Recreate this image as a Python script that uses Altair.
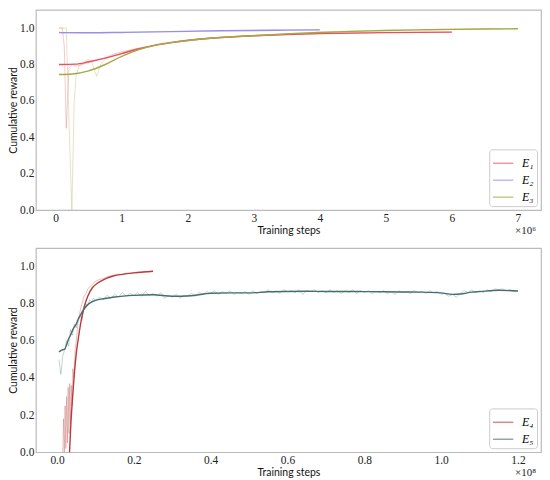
import altair as alt
import pandas as pd

# ---------------- top panel (x in units of 1e6 steps) ----------------
e1_x = [0.05, 0.3, 0.5, 0.75, 1.0, 1.25, 1.5, 1.75, 2.0, 2.5, 3.0, 3.5, 4.0, 5.0, 6.0]
e1_y = [0.80, 0.802, 0.815, 0.835, 0.86, 0.885, 0.905, 0.92, 0.932, 0.948, 0.958, 0.965, 0.97, 0.975, 0.978]
e1_raw_x = [0.05, 0.10, 0.13, 0.16, 0.2, 0.25, 0.3, 0.4, 0.5, 0.6, 0.7, 0.8, 0.9, 1.0, 1.2, 1.4, 1.6,
            1.8, 2.0, 2.3, 2.6, 3.0, 3.5, 4.0, 4.5, 5.0, 5.5, 6.0]
e1_raw_y = [1.0, 1.0, 0.9, 0.45, 0.78, 0.80, 0.79, 0.80, 0.81, 0.82, 0.83, 0.845, 0.86, 0.87, 0.885, 0.90,
            0.915, 0.925, 0.935, 0.945, 0.95, 0.96, 0.965, 0.97, 0.972, 0.976, 0.977, 0.978]

e2_x = [0.05, 0.5, 1.0, 1.5, 2.0, 2.5, 3.0, 3.5, 4.0]
e2_y = [0.975, 0.974, 0.976, 0.979, 0.982, 0.985, 0.987, 0.989, 0.99]
e2_raw_x = [0.05, 0.1, 0.2, 0.4, 0.7, 1.0, 1.5, 2.0, 2.5, 3.0, 3.5, 4.0]
e2_raw_y = [0.98, 0.972, 0.975, 0.973, 0.976, 0.977, 0.98, 0.983, 0.986, 0.988, 0.99, 0.991]

e3_x = [0.05, 0.25, 0.5, 0.75, 1.0, 1.25, 1.5, 1.75, 2.0, 2.5, 3.0, 3.5, 4.0, 4.5, 5.0, 5.5, 6.0, 6.5, 7.0]
e3_y = [0.745, 0.748, 0.765, 0.80, 0.845, 0.88, 0.905, 0.92, 0.932, 0.948, 0.958, 0.968, 0.976, 0.982,
        0.987, 0.99, 0.993, 0.995, 0.996]
e3_raw_x = [0.05, 0.10, 0.16, 0.2, 0.245, 0.28, 0.31, 0.35, 0.4, 0.45, 0.5, 0.55, 0.62, 0.68, 0.75, 0.85,
            0.95, 1.05, 1.2, 1.4, 1.6, 1.8, 2.0, 2.3, 2.6, 3.0, 3.5, 4.0, 4.5, 5.0, 5.5, 6.0, 6.5, 7.0]
e3_raw_y = [1.0, 1.0, 1.0, 0.5, 0.0, 0.6, 0.74, 0.79, 0.80, 0.82, 0.83, 0.81, 0.735, 0.80, 0.83, 0.845,
            0.86, 0.87, 0.885, 0.90, 0.915, 0.925, 0.935, 0.945, 0.952, 0.96, 0.97, 0.978, 0.984, 0.988,
            0.991, 0.994, 0.996, 0.997]

# ---------------- bottom panel (x in units of 1e8 steps) ----------------
e4_x = [0.028, 0.0325, 0.036, 0.04, 0.045, 0.05, 0.056, 0.063, 0.071, 0.08, 0.092, 0.105, 0.118, 0.13,
        0.144, 0.17, 0.2, 0.225, 0.25]
e4_y = [-0.1, 0.0, 0.15, 0.28, 0.42, 0.53, 0.62, 0.71, 0.785, 0.84, 0.886, 0.91, 0.926, 0.938, 0.948,
        0.958, 0.966, 0.971, 0.975]
e4_raw_x = [0.015, 0.017, 0.019, 0.021, 0.023, 0.025, 0.027, 0.029, 0.031, 0.033, 0.035, 0.037, 0.039,
            0.041, 0.044, 0.047, 0.05, 0.055, 0.06, 0.065, 0.07, 0.075, 0.08, 0.09, 0.1, 0.11, 0.12, 0.13,
            0.14, 0.15, 0.16, 0.17, 0.18, 0.19, 0.2, 0.21, 0.22, 0.23, 0.24, 0.25]
e4_raw_y = [0.0, 0.18, 0.0, 0.25, 0.02, 0.3, 0.05, 0.35, 0.1, 0.37, 0.15, 0.36, 0.25, 0.45, 0.4, 0.55,
            0.6, 0.7, 0.76, 0.8, 0.84, 0.85, 0.88, 0.9, 0.92, 0.93, 0.935, 0.945, 0.95, 0.955, 0.96,
            0.958, 0.965, 0.963, 0.968, 0.97, 0.968, 0.974, 0.972, 0.976]

e5_x = [0.005, 0.012, 0.02, 0.025, 0.03, 0.035, 0.04, 0.045, 0.05, 0.055, 0.06, 0.07, 0.08, 0.09, 0.1,
        0.125, 0.15, 0.2, 0.25, 0.3, 0.35, 0.4, 0.45, 0.5, 0.55, 0.6, 0.65, 0.7, 0.75, 0.8, 0.85, 0.9,
        0.95, 1.0, 1.03, 1.05, 1.08, 1.1, 1.15, 1.2]
e5_y = [0.54, 0.55, 0.555, 0.58, 0.61, 0.63, 0.655, 0.675, 0.69, 0.715, 0.735, 0.77, 0.795, 0.808, 0.818,
        0.828, 0.836, 0.845, 0.848, 0.84, 0.843, 0.856, 0.858, 0.858, 0.864, 0.866, 0.867, 0.866, 0.866,
        0.865, 0.864, 0.863, 0.862, 0.858, 0.85, 0.852, 0.862, 0.865, 0.872, 0.868]
e5_raw_x = [0.005, 0.010, 0.015, 0.020, 0.025, 0.030, 0.035, 0.040, 0.045, 0.050, 0.055, 0.060, 0.065,
            0.070, 0.075, 0.080, 0.085, 0.090, 0.095, 0.100,
            0.11, 0.12, 0.13, 0.14, 0.15, 0.16, 0.17, 0.18, 0.19, 0.20,
            0.21, 0.22, 0.23, 0.24, 0.25, 0.26, 0.27, 0.28, 0.29, 0.30,
            0.31, 0.32, 0.33, 0.34, 0.35, 0.36, 0.37, 0.38, 0.39, 0.40,
            0.41, 0.42, 0.43, 0.44, 0.45, 0.46, 0.47, 0.48, 0.49, 0.50,
            0.51, 0.52, 0.53, 0.54, 0.55, 0.56, 0.57, 0.58, 0.59, 0.60,
            0.61, 0.62, 0.63, 0.64, 0.65, 0.66, 0.67, 0.68, 0.69, 0.70,
            0.71, 0.72, 0.73, 0.74, 0.75, 0.76, 0.77, 0.78, 0.79, 0.80,
            0.81, 0.82, 0.83, 0.84, 0.85, 0.86, 0.87, 0.88, 0.89, 0.90,
            0.91, 0.92, 0.93, 0.94, 0.95, 0.96, 0.97, 0.98, 0.99, 1.00,
            1.01, 1.02, 1.03, 1.04, 1.05, 1.06, 1.07, 1.08, 1.09, 1.10,
            1.11, 1.12, 1.13, 1.14, 1.15, 1.16, 1.17, 1.18, 1.19, 1.20]
e5_raw_y = [0.50, 0.42, 0.52, 0.55, 0.60, 0.57, 0.66, 0.63, 0.69, 0.67, 0.72, 0.74, 0.71, 0.78, 0.80,
            0.79, 0.82, 0.81, 0.83, 0.815,
            0.835, 0.82, 0.845, 0.83, 0.85, 0.835, 0.86, 0.84, 0.855, 0.845,
            0.86, 0.84, 0.865, 0.845, 0.855, 0.84, 0.86, 0.83, 0.845, 0.835,
            0.85, 0.83, 0.845, 0.84, 0.855, 0.84, 0.86, 0.85, 0.865, 0.855,
            0.87, 0.85, 0.865, 0.855, 0.87, 0.85, 0.86, 0.855, 0.865, 0.85,
            0.87, 0.855, 0.865, 0.86, 0.875, 0.86, 0.87, 0.855, 0.875, 0.865,
            0.87, 0.86, 0.875, 0.85, 0.87, 0.865, 0.875, 0.86, 0.87, 0.86,
            0.875, 0.86, 0.87, 0.855, 0.87, 0.86, 0.875, 0.855, 0.87, 0.86,
            0.87, 0.855, 0.865, 0.86, 0.87, 0.855, 0.865, 0.85, 0.87, 0.86,
            0.865, 0.855, 0.87, 0.86, 0.865, 0.855, 0.87, 0.86, 0.865, 0.85,
            0.855, 0.84, 0.85, 0.835, 0.855, 0.87, 0.86, 0.875, 0.86, 0.87,
            0.86, 0.875, 0.865, 0.88, 0.875, 0.88, 0.87, 0.875, 0.865, 0.87]

y_ticks = [0.0, 0.2, 0.4, 0.6, 0.8, 1.0]
top_x_ticks = [0, 1, 2, 3, 4, 5, 6, 7]
bot_x_ticks = [0.0, 0.2, 0.4, 0.6, 0.8, 1.0, 1.2]

top_names = ["E₁", "E₂", "E₃"]
top_colors = ["#e8505e", "#9d8de6", "#a6a844"]
bot_names = ["E₄", "E₅"]
bot_colors = ["#b83b3b", "#466e6e"]


def frame(pairs, names):
    rows = []
    for (xs, ys), n in zip(pairs, names):
        for a, b in zip(xs, ys):
            rows.append({"x": a, "y": b, "series": n})
    return pd.DataFrame(rows)


top_smooth = frame([(e1_x, e1_y), (e2_x, e2_y), (e3_x, e3_y)], top_names)
top_raw = frame([(e1_raw_x, e1_raw_y), (e2_raw_x, e2_raw_y), (e3_raw_x, e3_raw_y)], top_names)
bot_smooth = frame([(e4_x, e4_y), (e5_x, e5_y)], bot_names)
bot_raw = frame([(e4_raw_x, e4_raw_y), (e5_raw_x, e5_raw_y)], bot_names)

SERIF = "Liberation Serif, Times New Roman, serif"
SANS = "Lato, sans-serif"
W = 507


def panel(smooth, raw, names, colors, xdom, xticks, xfmt, mult, H):
    xenc = alt.X("x:Q", scale=alt.Scale(domain=xdom, nice=False, zero=False),
                 axis=alt.Axis(values=xticks, format=xfmt, title="Training steps"))
    yenc = alt.Y("y:Q", scale=alt.Scale(domain=[0, 1.1], nice=False),
                 axis=alt.Axis(values=y_ticks, format=".1f", title="Cumulative reward"))
    cscale = alt.Scale(domain=names, range=colors)
    leg = alt.Legend(title=None, orient="bottom-right", offset=4,
                     symbolType="stroke", symbolSize=420, symbolStrokeWidth=1.5,
                     symbolOpacity=0.6,
                     labelFont=SERIF, labelFontStyle="italic", labelFontSize=12,
                     labelOffset=8, rowPadding=-5, padding=3,
                     strokeColor="#cccccc", fillColor="white", cornerRadius=3)
    cenc = alt.Color("series:N", scale=cscale, sort=names, legend=leg)
    raw_l = alt.Chart(raw).mark_line(clip=True, strokeWidth=0.9, opacity=0.35).encode(
        x=xenc, y=yenc, color=cenc)
    sm_l = alt.Chart(smooth).mark_line(clip=True, strokeWidth=1.4, interpolate="monotone").encode(
        x=xenc, y=yenc, color=cenc)
    mtxt = alt.Chart(pd.DataFrame({"t": [mult]})).mark_text(
        align="right", baseline="middle", font=SERIF, fontSize=11, color="#222222").encode(
        text="t:N", x=alt.value(W - 5), y=alt.value(H + 21))
    return alt.layer(raw_l, sm_l, mtxt).properties(width=W, height=H)


top = panel(top_smooth, top_raw, top_names, top_colors, [-0.3, 7.35], top_x_ticks, "d", "×10⁶", 201)
bot = panel(bot_smooth, bot_raw, bot_names, bot_colors, [-0.055, 1.26], bot_x_ticks, ".1f", "×10⁸", 205)

chart = alt.vconcat(top, bot, spacing=38, bounds="flush").resolve_scale(
    color="independent").resolve_legend(color="independent").properties(
    padding={"left": 0, "top": 0, "right": 0, "bottom": 0}
).configure_view(stroke="#bbbbbb", strokeWidth=1.2).configure_axis(
    domain=False, ticks=False, grid=False,
    labelFont=SERIF, labelFontSize=11.5, labelColor="#222222",
    titleFont=SANS, titleFontSize=10.5, titleFontWeight="normal", titleColor="#111111"
).configure_axisX(labelPadding=2, titlePadding=2).configure_axisY(labelPadding=2, titlePadding=1)

chart.save("out.html", embed_options={"renderer": "svg", "actions": False})
